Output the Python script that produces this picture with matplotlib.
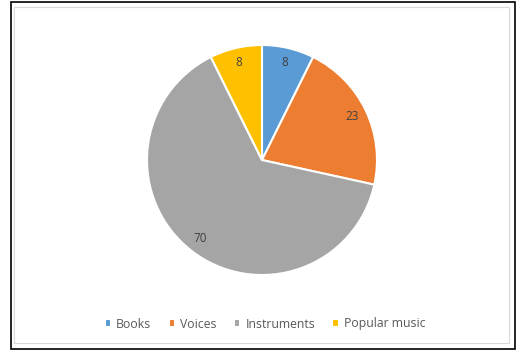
import matplotlib.pyplot as plt
from matplotlib.patches import Rectangle

labels = ["Books", "Voices", "Instruments", "Popular music"]
values = [8, 23, 70, 8]
colors = ["#5B9BD5", "#ED7D31", "#A5A5A5", "#FFC000"]

W, H = 516, 352
fig = plt.figure(figsize=(W / 100, H / 100), dpi=100)
fig.patch.set_facecolor("white")

# outer black frame and inner light grey chart border
fig.add_artist(Rectangle((11 / W, 1 - 349 / H), 504 / W, 347 / H, transform=fig.transFigure,
                         fill=False, edgecolor="black", linewidth=1.2))
fig.add_artist(Rectangle((14 / W, 1 - 343 / H), 495 / W, 336 / H, transform=fig.transFigure,
                         fill=False, edgecolor="#D9D9D9", linewidth=0.8))

cx, cy, r = 262, 160, 115
ax = fig.add_axes([(cx - r) / W, 1 - (cy + r) / H, 2 * r / W, 2 * r / H])
wedges, texts, autotexts = ax.pie(
    values, colors=colors, startangle=90, counterclock=False,
    autopct=lambda p: "%d" % round(p * sum(values) / 100), pctdistance=0.87,
    wedgeprops=dict(edgecolor="white", linewidth=1.5),
    textprops=dict(fontsize=8.5, color="#404040", family="Open Sans"))
ax.set_xlim(-1, 1)
ax.set_ylim(-1, 1)
ax.set_aspect("equal")

fig.legend(wedges, labels, loc="center", bbox_to_anchor=(265 / W, 1 - 324 / H), ncol=4,
           frameon=False, handlelength=0.55, handleheight=0.55, handletextpad=0.4,
           columnspacing=1.4, prop=dict(family="Open Sans", size=8.8), labelcolor="#595959")

fig.savefig("out.png", dpi=100)
